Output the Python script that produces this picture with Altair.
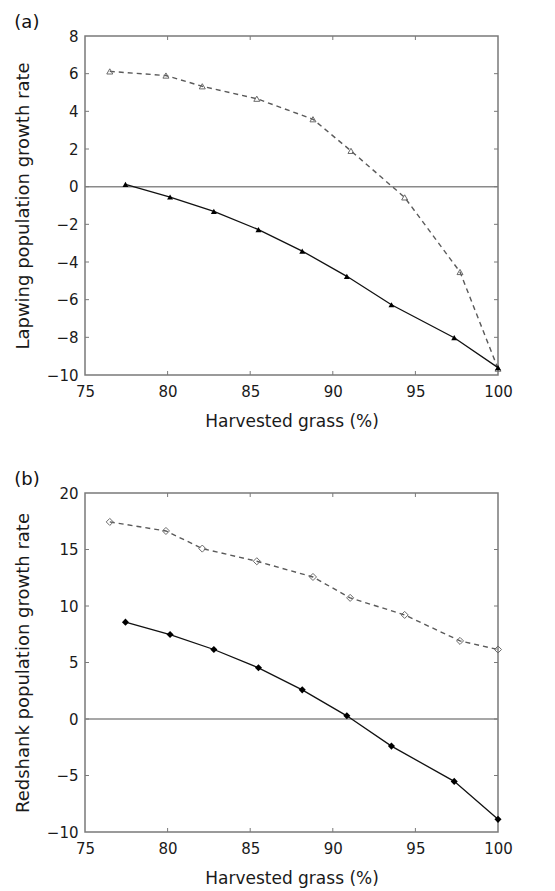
import altair as alt
import pandas as pd

# ---- data ----
lap_open_x = [76.5, 79.9, 82.1, 85.4, 88.8, 91.1, 94.35, 97.7, 100.0]
lap_open_y = [6.12, 5.9, 5.33, 4.67, 3.58, 1.9, -0.57, -4.53, -9.66]
lap_fill_x = [77.45, 80.15, 82.8, 85.5, 88.15, 90.85, 93.55, 97.35, 100.0]
lap_fill_y = [0.12, -0.55, -1.31, -2.28, -3.42, -4.76, -6.27, -8.02, -9.61]

red_open_x = [76.5, 79.9, 82.1, 85.4, 88.8, 91.05, 94.35, 97.7, 100.0]
red_open_y = [17.44, 16.64, 15.08, 13.96, 12.57, 10.72, 9.21, 6.91, 6.15]
red_fill_x = [77.45, 80.15, 82.8, 85.5, 88.15, 90.85, 93.55, 97.35, 100.0]
red_fill_y = [8.57, 7.47, 6.15, 4.53, 2.58, 0.28, -2.4, -5.52, -8.88]

x_ticks = [75, 80, 85, 90, 95, 100]
lap_y_ticks = [-10, -8, -6, -4, -2, 0, 2, 4, 6, 8]
red_y_ticks = [-10, -5, 0, 5, 10, 15, 20]

W, H = 413, 339
TL = 4
FONT = "DejaVu Sans"
GREY = "#7a7a7a"


def panel(tag, ytitle, ox, oy, fx, fy, yticks, shape, msize_open, msize_fill):
    xs = alt.Scale(domain=[75, 100], nice=False, zero=False)
    ys = alt.Scale(domain=[yticks[0], yticks[-1]], nice=False, zero=False)
    xax = alt.Axis(values=x_ticks, format="d", labelFlush=False, labelOverlap=False)
    yax = alt.Axis(values=yticks, format="d", labelOverlap=False)
    X = alt.X("x:Q", scale=xs, axis=xax, title="Harvested grass (%)")
    Y = alt.Y("y:Q", scale=ys, axis=yax, title=ytitle)

    df_open = pd.DataFrame({"x": ox, "y": oy})
    df_fill = pd.DataFrame({"x": fx, "y": fy})
    df_xt = pd.DataFrame({"x": x_ticks[1:-1]})
    df_yt = pd.DataFrame({"y": yticks[1:-1]})
    df_zero = pd.DataFrame({"y": [0]})

    zero = alt.Chart(df_zero).mark_rule(color="#8a8a8a", strokeWidth=1.5).encode(y=Y)
    xt_b = alt.Chart(df_xt).mark_rule(color=GREY, strokeWidth=1).encode(
        x=X, y=alt.value(H), y2=alt.value(H - TL))
    xt_t = alt.Chart(df_xt).mark_rule(color=GREY, strokeWidth=1).encode(
        x=X, y=alt.value(0), y2=alt.value(TL))
    yt_l = alt.Chart(df_yt).mark_rule(color=GREY, strokeWidth=1).encode(
        y=Y, x=alt.value(0), x2=alt.value(TL))
    yt_r = alt.Chart(df_yt).mark_rule(color=GREY, strokeWidth=1).encode(
        y=Y, x=alt.value(W), x2=alt.value(W - TL))

    line_open = alt.Chart(df_open).mark_line(
        color="#5a5a5a", strokeWidth=1.4, strokeDash=[5, 4]).encode(x=X, y=Y)
    pts_open = alt.Chart(df_open).mark_point(
        shape=shape, filled=False, color="#6a6a6a", strokeWidth=1, size=msize_open,
        opacity=1).encode(x=X, y=Y)
    line_fill = alt.Chart(df_fill).mark_line(
        color="#111111", strokeWidth=1.3).encode(x=X, y=Y)
    pts_fill = alt.Chart(df_fill).mark_point(
        shape=shape, filled=True, color="#000000", size=msize_fill,
        opacity=1).encode(x=X, y=Y)

    return alt.layer(
        zero, xt_b, xt_t, yt_l, yt_r, line_open, line_fill, pts_open, pts_fill
    ).properties(
        width=W, height=H,
        title=alt.TitleParams(tag, anchor="start", frame="bounds", fontSize=18,
                              fontWeight="normal", font=FONT, color="#111111",
                              offset=-3),
    )


pa = panel("(a)", "Lapwing population growth rate", lap_open_x, lap_open_y,
           lap_fill_x, lap_fill_y, lap_y_ticks, "triangle-up", 36, 36)
pb = panel("(b)", "Redshank population growth rate", red_open_x, red_open_y,
           red_fill_x, red_fill_y, red_y_ticks, "diamond", 50, 50)

chart = alt.vconcat(pa, pb, spacing=40).configure_view(
    stroke=GREY, strokeWidth=1.5
).configure_axis(
    ticks=False, domain=False, grid=False,
    labelFont=FONT, labelFontSize=15, labelColor="#1a1a1a",
    titleFont=FONT, titleFontWeight="normal", titleColor="#1a1a1a",
).configure_axisX(
    labelPadding=9, titleFontSize=17, titlePadding=14,
).configure_axisY(
    labelPadding=7, titleFontSize=18, titlePadding=14,
)

chart.save("out.html", embed_options={"renderer": "svg", "actions": False})
